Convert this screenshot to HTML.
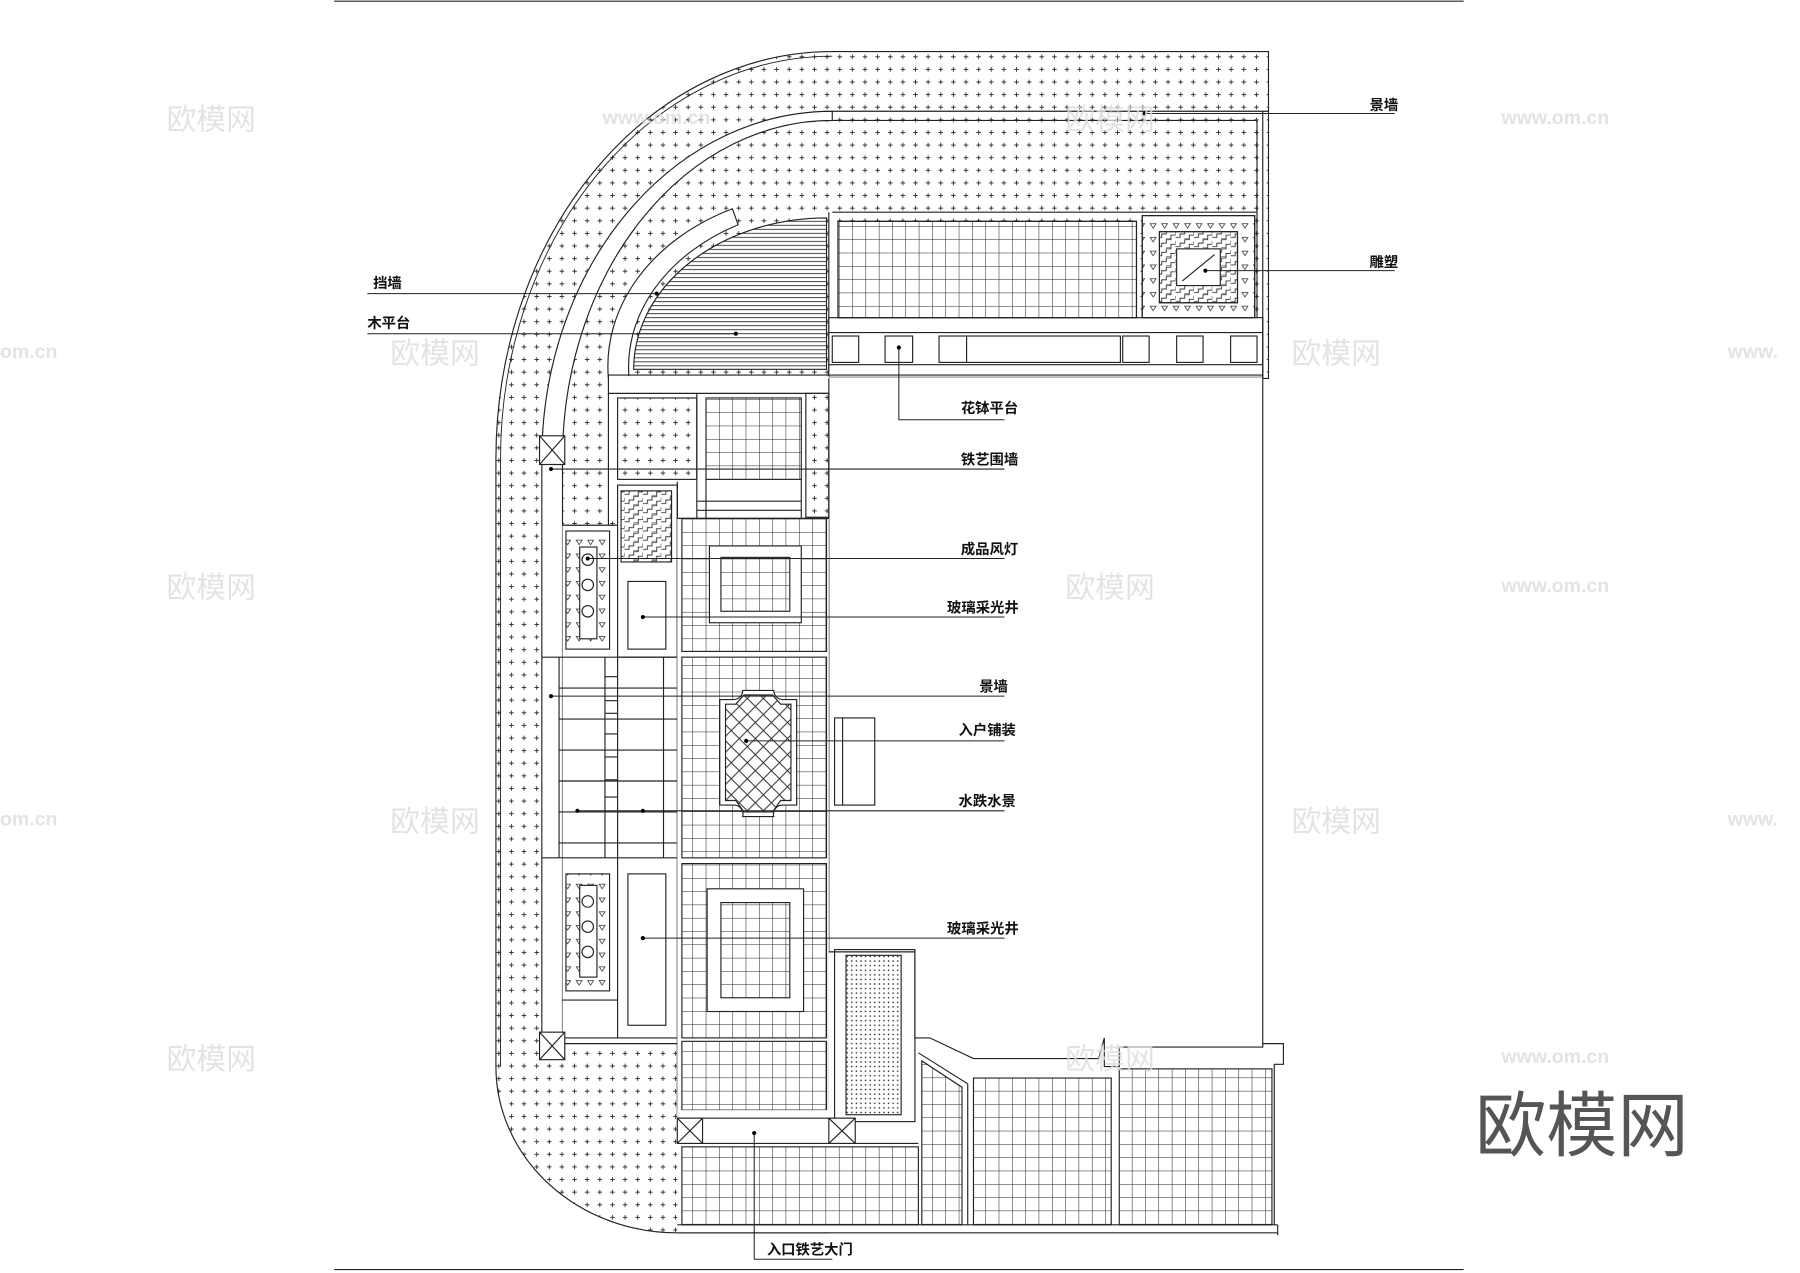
<!DOCTYPE html>
<html><head><meta charset="utf-8"><style>
html,body{margin:0;padding:0;background:#fff;}
svg{display:block}
text{font-family:"Liberation Sans","Noto Sans CJK SC",sans-serif;}
</style></head><body>
<svg width="1800" height="1273" viewBox="0 0 1568 1110" preserveAspectRatio="none" xmlns="http://www.w3.org/2000/svg">
<defs>
<pattern id="cr" width="11" height="11" patternUnits="userSpaceOnUse">
<path d="M5.5 3.5V7.5M3.5 5.5H7.5" stroke="#333" stroke-width="0.8"/></pattern>
<pattern id="gr" width="11.6" height="11.6" patternUnits="userSpaceOnUse">
<path d="M0 0H11.6M0 0V11.6" stroke="#222" stroke-width="0.9" fill="none"/></pattern>
<pattern id="hl" width="8" height="3.5" patternUnits="userSpaceOnUse">
<path d="M0 0.5H8" stroke="#333" stroke-width="0.8"/></pattern>
<pattern id="dt" width="4" height="4" patternUnits="userSpaceOnUse">
<circle cx="2" cy="2" r="0.7" fill="#222"/></pattern>
<pattern id="tr" width="10" height="12" patternUnits="userSpaceOnUse">
<path d="M2 3H7L4.5 7Z" stroke="#333" stroke-width="0.7" fill="none"/></pattern>
<pattern id="dm" width="14" height="14" patternUnits="userSpaceOnUse">
<path d="M0 0L14 14M14 0L0 14" stroke="#333" stroke-width="0.9"/></pattern>
<pattern id="zz" width="16" height="8" patternUnits="userSpaceOnUse">
<path d="M0 7H4V4H8V1H12V-2M8 11V8H12V5H16V2" stroke="#333" stroke-width="0.8" fill="none"/></pattern>
<clipPath id="deck"><path d="M720 190V322H552A168 132 0 0 1 720 190Z"/></clipPath>
</defs>

<g fill="none" stroke="#222" stroke-width="1">
<line x1="291" y1="1" x2="1275" y2="1"/>
<line x1="291" y1="1107" x2="1275" y2="1107"/>

<path d="M725 45H1105V330H722V1075H590A158 145 0 0 1 432 930V400A293 355 0 0 1 725 45Z" fill="url(#cr)"/>
<path d="M725 49A289 351 0 0 0 436 400V930" stroke-width="0.8"/>
<line x1="725" y1="97" x2="1105" y2="97"/>
<line x1="725" y1="105" x2="1095" y2="105"/>
<path d="M725 97A253 303 0 0 0 472 400L490 400A235 295 0 0 1 725 105Z" fill="#fff"/>
<path d="M530 330A190 152 0 0 1 638 182L643 196A178 140 0 0 0 548 330Z" fill="#fff"/>
<g clip-path="url(#deck)"><rect x="540" y="190" width="190" height="140" fill="#fff" stroke="none"/><rect x="540" y="191" width="190" height="140" fill="url(#hl)" stroke="none"/></g>
<path d="M720 190V322H552A168 132 0 0 1 720 190Z"/>
<line x1="722" y1="185" x2="722" y2="330"/>
<line x1="725" y1="185" x2="1095" y2="185"/>
<line x1="1095" y1="105" x2="1095" y2="327"/>

<rect x="722" y="277" width="378" height="52" fill="#fff"/>
<line x1="722" y1="290" x2="1100" y2="290"/>
<line x1="722" y1="318" x2="1100" y2="318"/>
<rect x="730" y="193" width="260" height="84" fill="#fff"/>
<rect x="730" y="193" width="260" height="84" fill="url(#gr)"/>
<rect x="995" y="188" width="98" height="89" fill="#fff"/>
<rect x="995" y="188" width="98" height="89" fill="url(#tr)"/>
<rect x="1010" y="202" width="68" height="62" fill="#fff"/>
<rect x="1010" y="202" width="68" height="62" fill="url(#zz)"/>
<rect x="1025" y="217" width="38" height="32" fill="#fff"/>
<line x1="1030" y1="245" x2="1058" y2="222"/>
<rect x="725" y="293" width="23" height="23"/>
<rect x="771" y="293" width="24" height="23"/>
<rect x="818" y="293" width="158" height="23"/>
<line x1="842" y1="293" x2="842" y2="316"/>
<rect x="978" y="293" width="23" height="23"/>
<rect x="1025" y="293" width="23" height="23"/>
<rect x="1072" y="293" width="23" height="23"/>

<rect x="722" y="329" width="378" height="580" fill="#fff" stroke="none"/>
<line x1="1100" y1="97" x2="1100" y2="910"/>
<line x1="530" y1="327" x2="1100" y2="327"/>
<rect x="727" y="626" width="35" height="76"/>
<line x1="734" y1="626" x2="734" y2="702"/>

<rect x="530" y="328" width="192" height="124" fill="#fff" stroke="none"/>
<line x1="530" y1="343" x2="722" y2="343"/>
<line x1="530" y1="327" x2="530" y2="460"/>
<rect x="538" y="347" width="69" height="71" fill="url(#cr)"/>
<rect x="615" y="347" width="83" height="71" fill="url(#gr)"/>
<rect x="702" y="343" width="20" height="108" fill="url(#cr)"/>
<line x1="607" y1="343" x2="607" y2="452"/>
<line x1="615" y1="418" x2="615" y2="452"/>
<line x1="698" y1="418" x2="698" y2="452"/>
<line x1="607" y1="437" x2="698" y2="437"/>
<line x1="607" y1="445" x2="698" y2="445"/>
<line x1="722" y1="330" x2="722" y2="830"/>

<rect x="472" y="405" width="18" height="500" fill="#fff"/>
<rect x="490" y="458" width="100" height="452" fill="#fff" stroke="none"/>
<rect x="538" y="423" width="52" height="150" fill="#fff"/>
<rect x="541" y="428" width="44" height="62" fill="url(#zz)"/>
<line x1="490" y1="458" x2="538" y2="458"/>
<rect x="493" y="463" width="38" height="103" fill="url(#tr)"/>
<rect x="505" y="477" width="15" height="80" fill="#fff"/>
<circle cx="512" cy="488" r="5"/><circle cx="512" cy="510" r="5"/><circle cx="512" cy="533" r="5"/>
<rect x="547" y="507" width="33" height="59"/>
<line x1="472" y1="573" x2="590" y2="573"/>
<line x1="472" y1="748" x2="590" y2="748"/>
<line x1="487" y1="573" x2="487" y2="748"/>
<line x1="527" y1="573" x2="527" y2="748"/>
<line x1="538" y1="573" x2="538" y2="748"/>
<line x1="578" y1="573" x2="578" y2="748"/>
<path d="M487 600H590M487 627H590M487 654H590M487 681H590M487 708H590M487 735H590"/>
<path d="M527 590H538M527 611H538M527 622H538M527 640H538M527 660H538M527 680H538M527 695H538"/>
<rect x="493" y="762" width="38" height="102" fill="url(#tr)"/>
<rect x="505" y="772" width="15" height="80" fill="#fff"/>
<circle cx="512" cy="786" r="5"/><circle cx="512" cy="808" r="5"/><circle cx="512" cy="830" r="5"/>
<line x1="538" y1="748" x2="538" y2="905"/>
<line x1="490" y1="872" x2="538" y2="872"/>
<rect x="547" y="762" width="33" height="132"/>
<line x1="590" y1="420" x2="590" y2="975"/>
<line x1="490" y1="905" x2="590" y2="905"/>
<line x1="490" y1="910" x2="590" y2="910"/>
<rect x="470" y="380" width="22" height="25" fill="#fff"/><path d="M470 380L492 405M492 380L470 405"/>
<rect x="470" y="900" width="22" height="24" fill="#fff"/><path d="M470 900L492 924M492 900L470 924"/>

<rect x="590" y="452" width="132" height="523" fill="#fff" stroke="none"/>
<line x1="590" y1="452" x2="722" y2="452"/>
<rect x="594" y="452" width="126" height="116" fill="url(#gr)"/>
<rect x="618" y="476" width="80" height="67" fill="#fff"/>
<rect x="628" y="486" width="60" height="47" fill="url(#gr)"/>
<rect x="594" y="573" width="126" height="175" fill="url(#gr)"/>
<path d="M627 610H639A8 8 0 0 0 647 602H674A8 8 0 0 0 682 610H694V702H682A8 8 0 0 0 674 712H647A8 8 0 0 0 639 702H627Z" fill="#fff"/>
<path d="M632 614H641L648 606H673L680 614H689V698H680L673 708H648L641 698H632Z" fill="url(#dm)"/>
<rect x="594" y="753" width="126" height="152" fill="url(#gr)"/>
<rect x="616" y="775" width="84" height="107" fill="#fff"/>
<rect x="628" y="787" width="60" height="83" fill="url(#gr)"/>
<rect x="594" y="908" width="126" height="60" fill="url(#gr)"/>

<rect x="590" y="968" width="525" height="107" fill="#fff" stroke="none"/>
<rect x="722" y="830" width="80" height="145" fill="#fff" stroke="none"/>
<path d="M722 830H797V905H810L848 923H957L962 905V930H975V913H1100V910H1118V928H1110V1068"/>
<rect x="727" y="828" width="70" height="150"/>
<rect x="737" y="833" width="48" height="139" fill="url(#dt)"/>
<line x1="590" y1="975" x2="745" y2="975"/>
<line x1="590" y1="997" x2="800" y2="997"/>
<rect x="590" y="975" width="22" height="22" fill="#fff"/><path d="M590 975L612 997M612 975L590 997"/>
<rect x="722" y="975" width="23" height="22" fill="#fff"/><path d="M722 975L745 997M745 975L722 997"/>
<rect x="594" y="1000" width="206" height="68" fill="url(#gr)"/>
<path d="M803 1068V925L838 948V1068Z" fill="url(#gr)"/>
<path d="M800 918L843 945V1068"/>
<rect x="848" y="940" width="120" height="128" fill="url(#gr)"/>
<rect x="975" y="932" width="133" height="136" fill="url(#gr)"/>
<line x1="590" y1="1068" x2="1113" y2="1068"/>
<line x1="590" y1="1075" x2="1113" y2="1075"/>
<line x1="1113" y1="1068" x2="1113" y2="1077"/>
</g>

<g stroke="#222" stroke-width="0.9" fill="none">
<path d="M997 99H1215"/><path d="M1050 236H1215"/>
<path d="M783 303V366H875"/>
<path d="M480 409H875"/><path d="M512 487H875"/><path d="M560 538H875"/>
<path d="M480 607H875"/><path d="M650 646H875"/><path d="M503 707H875"/>
<path d="M560 818H875"/><path d="M657 988V1098H725"/>
<path d="M320 256H572"/><path d="M320 291H641"/>
</g>
<g fill="#000">
<circle cx="997" cy="99" r="1.8"/><circle cx="1050" cy="236" r="1.8"/><circle cx="783" cy="303" r="1.8"/>
<circle cx="480" cy="409" r="1.8"/><circle cx="512" cy="487" r="1.8"/><circle cx="560" cy="538" r="1.8"/>
<circle cx="480" cy="607" r="1.8"/><circle cx="650" cy="646" r="1.8"/><circle cx="503" cy="707" r="1.8"/>
<circle cx="560" cy="707" r="1.8"/><circle cx="560" cy="818" r="1.8"/><circle cx="657" cy="988" r="1.8"/>
<circle cx="572" cy="256" r="1.8"/><circle cx="641" cy="291" r="1.8"/>
</g>
<g font-size="12.5" font-weight="bold" fill="#111">
<text x="1193" y="96">景墙</text>
<text x="1193" y="233">雕塑</text>
<text x="837" y="360">花钵平台</text>
<text x="837" y="405">铁艺围墙</text>
<text x="837" y="483">成品风灯</text>
<text x="825" y="534">玻璃采光井</text>
<text x="853" y="603">景墙</text>
<text x="835" y="641">入户铺装</text>
<text x="835" y="703">水跌水景</text>
<text x="825" y="814">玻璃采光井</text>
<text x="668" y="1094">入口铁艺大门</text>
<text x="325" y="251">挡墙</text>
<text x="320" y="286">木平台</text>
</g>
<g fill="#ddd" font-size="26" opacity="0.8">
<text x="145" y="113">欧模网</text><text x="145" y="521">欧模网</text><text x="145" y="932">欧模网</text>
<text x="340" y="317">欧模网</text><text x="340" y="725">欧模网</text>
<text x="928" y="113">欧模网</text><text x="928" y="521">欧模网</text><text x="928" y="932">欧模网</text>
<text x="1125" y="317">欧模网</text><text x="1125" y="725">欧模网</text>
</g>
<g fill="#ddd" font-size="17" font-weight="bold" opacity="0.8">
<text x="0" y="312">om.cn</text><text x="0" y="720">om.cn</text>
<text x="525" y="108">www.om.cn</text><text x="1308" y="108">www.om.cn</text>
<text x="1308" y="516">www.om.cn</text><text x="1308" y="927">www.om.cn</text>
<text x="1505" y="312">www.</text><text x="1505" y="720">www.</text>
</g>
<text x="1285" y="1003" font-size="62" fill="#555" font-family="Liberation Sans,Noto Sans CJK SC,sans-serif">欧模网</text>
</svg>
</body></html>
